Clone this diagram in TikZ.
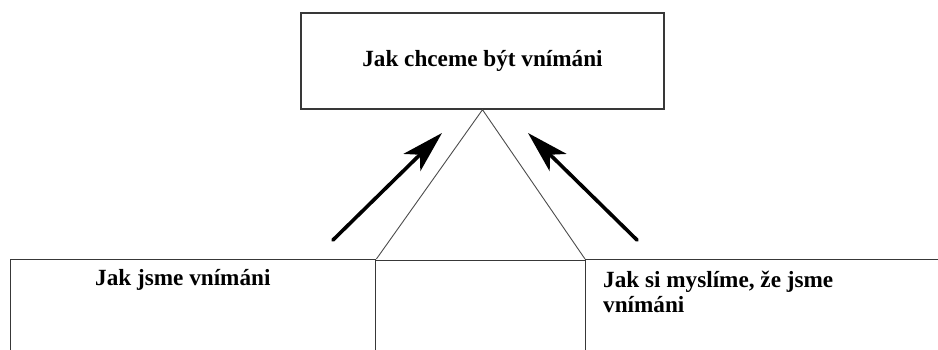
\documentclass[tikz,border=0pt]{standalone}
\usepackage{fontspec}
\setmainfont{Liberation Serif}
\usetikzlibrary{arrows.meta}
\begin{document}
\begin{tikzpicture}[x=1pt,y=1pt,
  frame/.style={draw=black!78,line width=1.4pt,rectangle,inner sep=0pt},
  txt/.style={font=\fontsize{23.2}{25}\selectfont\bfseries,inner sep=0pt},
  side/.style={draw=black!70,line width=0.9pt},
  pointer/.style={line width=3.6pt,line cap=round,
    -{Stealth[length=42pt,width=24pt,inset=11pt]}}]
\useasboundingbox (0,0) rectangle (938,349);
% upper box
\node[frame,minimum width=363pt,minimum height=96pt] (top) at (482.5,288) {};
\node[txt] (toplabel) at (top.center) {Jak chceme být vnímáni};
% lower row of boxes (running past the bottom edge)
\node[frame,minimum width=365pt,minimum height=120pt,anchor=north west] (left) at (10,90) {};
\node[frame,minimum width=210pt,minimum height=120pt,anchor=north west] (mid) at (375,89.5) {};
\node[frame,minimum width=380pt,minimum height=120pt,anchor=north west] (right) at (585,90) {};
\node[txt,anchor=base west] (lefttext) at (95,64) {Jak jsme vnímáni};
\node[txt,anchor=base west,align=left] (righttext) at (603,37) {Jak si myslíme, že jsme\\vnímáni};
% triangle sides
\draw[side] (left.north east) -- (top.south) -- (right.north west);
% arrows pointing up to the upper box
\coordinate (la) at (333,109);
\coordinate (lb) at (442,216);
\coordinate (ra) at (637,109);
\coordinate (rb) at (528,216);
\draw[pointer] (la) -- (lb);
\draw[pointer] (ra) -- (rb);
\end{tikzpicture}
\end{document}
